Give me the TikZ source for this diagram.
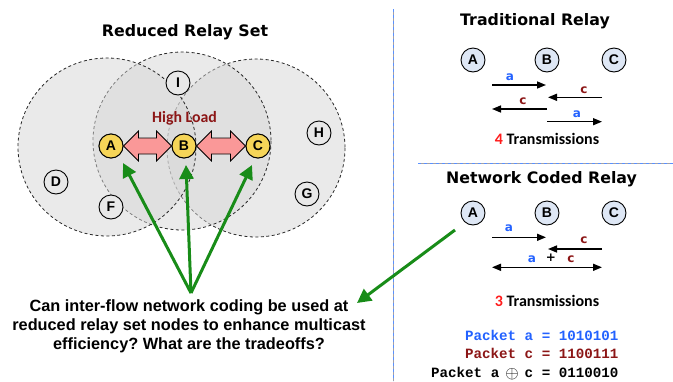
\documentclass[tikz,border=0pt]{standalone}
\usepackage{fontspec}
\setmainfont{Liberation Sans}
\newfontfamily\headfont{DejaVu Sans}
\newfontfamily\calfont{Carlito}
\newfontfamily\pktfont{Liberation Mono}
\usetikzlibrary{calc,arrows.meta}
\frenchspacing

\definecolor{relayyellow}{RGB}{246,213,88}
\definecolor{nodegray}{RGB}{232,232,232}
\definecolor{nodeblue}{RGB}{222,231,245}
\definecolor{loadpink}{RGB}{250,152,152}
\definecolor{flowa}{RGB}{35,98,255}
\definecolor{flowc}{RGB}{140,22,22}
\definecolor{hint}{RGB}{24,140,24}
\definecolor{countred}{RGB}{255,28,28}
\definecolor{rulegray}{RGB}{160,160,170}
\definecolor{ruleblue}{RGB}{90,145,255}

\tikzset{
  zone/.style={draw=black!85, dash pattern=on 3pt off 2.5pt, line width=0.8pt,
               fill=black!16, fill opacity=0.5},
  relay/.style={circle, draw, line width=0.9pt, fill=relayyellow, minimum size=24pt,
                inner sep=0pt, font=\fontsize{14}{14}\selectfont\bfseries},
  other/.style={relay, fill=nodegray},
  pnode/.style={relay, fill=nodeblue},
  heading/.style={anchor=base, font=\headfont\bfseries\fontsize{15.8}{16}\selectfont},
  msg/.style={-{Triangle[length=9pt,width=7pt]}, line width=1.5pt},
  bimsg/.style={{Triangle[length=9pt,width=7pt]}-{Triangle[length=9pt,width=7pt]}, line width=1.5pt},
  pktlbl/.style={anchor=base, font=\headfont\bfseries\fontsize{12}{12}\selectfont},
  count/.style={anchor=base, font=\calfont\bfseries\fontsize{16}{16}\selectfont},
  pkt/.style={anchor=base east, font=\pktfont\bfseries\fontsize{14.2}{14}\selectfont},
  hintarrow/.style={draw=hint, line width=3pt, -{Triangle[length=14pt,width=14pt]}},
  loadarrow/.style={draw=black, line width=0.8pt, fill=loadpink, line join=miter},
  divider/.style={line width=1pt, draw=rulegray},
  dividerdash/.style={line width=1pt, draw=ruleblue, dash pattern=on 3pt off 3pt}
}

\begin{document}
\begin{tikzpicture}[x=1pt,y=-1pt]
\useasboundingbox (0,0) rectangle (673,381);

% ---------- left: reduced relay set ----------
\node[heading] (title) at (185,36) {Reduced Relay Set};

\draw[zone] (256,148) circle[radius=89];
\draw[zone] (182,141) circle[radius=89];
\draw[zone] (107,147) circle[radius=89];

\node[relay] (A) at (111,146) {A};
\node[relay] (B) at (184,146) {B};
\node[relay] (C) at (258,146) {C};

% heavy two-way traffic between the relays
\foreach \u/\v in {A/B,B/C}{
  \draw[loadarrow] let \p1=(\u.east), \p2=(\v.west) in
    (\x1,\y1) -- (\x1+15pt,\y1+15pt) -- (\x1+15pt,\y1+8pt) -- (\x2-15pt,\y1+8pt)
    -- (\x2-15pt,\y1+15pt) -- (\x2,\y1) -- (\x2-15pt,\y1-15pt) -- (\x2-15pt,\y1-8pt)
    -- (\x1+15pt,\y1-8pt) -- (\x1+15pt,\y1-15pt) -- cycle;
}
\node[relay] at (A) {A};
\node[relay] at (B) {B};
\node[relay] at (C) {C};

\node[other] (I) at (178,83) {I};
\node[other] (H) at (319,133) {H};
\node[other] (D) at (56,182) {D};
\node[other] (F) at (111,207) {F};
\node[other] (G) at (307,194) {G};

\node[anchor=base, text=flowc, font=\calfont\bfseries\fontsize{15.8}{16}\selectfont]
  (load) at (184.5,122) {High Load};

% ---------- question ----------
\node[align=center, font=\bfseries\fontsize{16.3}{19}\selectfont] (q) at (189,326)
  {Can inter-flow network coding be used at\\
   reduced relay set nodes to enhance multicast\\
   efficiency? What are the tradeoffs?};

\coordinate (apex) at (191,293);
\draw[hintarrow] (apex) -- ($(A)+(12,17)$);
\draw[hintarrow] (apex) -- ($(B)+(2,19)$);
\draw[hintarrow] (apex) -- ($(C)+(-6,19)$);

% ---------- dividers ----------
\draw[divider] (393,9) -- (393,381);
\draw[dividerdash] (393,9) -- (393,381);
\draw[divider] (418,163) -- (673,163);
\draw[dividerdash] (418,163) -- (673,163);

% ---------- traditional relay ----------
\node[heading] (trad) at (535,25) {Traditional Relay};
\node[pnode] (tA) at (473,60) {A};
\node[pnode] (tB) at (547,60) {B};
\node[pnode] (tC) at (614,60) {C};

\draw[msg] (492,85) -- (546,85);
\node[pktlbl, text=flowa] at (510,80) {a};
\draw[msg] (602,97.3) -- (548,97.3);
\node[pktlbl, text=flowc] at (584,93) {c};
\draw[msg] (547,109) -- (492,109);
\node[pktlbl, text=flowc] at (523,104) {c};
\draw[msg] (547,121.7) -- (602,121.7);
\node[pktlbl, text=flowa] at (577,117) {a};

\node[count] (tcount) at (547,144) {\textcolor{countred}{4} Transmissions};

% ---------- network coded relay ----------
\node[heading] (nc) at (541.5,183) {Network Coded Relay};
\node[pnode] (nA) at (473,213) {A};
\node[pnode] (nB) at (547,213) {B};
\node[pnode] (nC) at (614,213) {C};

\draw[msg] (492,237.3) -- (546,237.3);
\node[pktlbl, text=flowa] at (509,231) {a};
\draw[msg] (602,249) -- (548,249);
\node[pktlbl, text=flowc] at (584,243) {c};
\draw[bimsg] (492,267.3) -- (602,267.3);
\node[pktlbl, text=flowa] at (532,262) {a};
\node[pktlbl] at (551,261) {+};
\node[pktlbl, text=flowc] at (571,262) {c};

\node[count] (ncount) at (547,306) {\textcolor{countred}{3} Transmissions};

\node[pkt, text=flowa] (pa) at (622,340.5) {Packet a = 1010101};
\node[pkt, text=flowc] (pc) at (622,358.5) {Packet c = 1100111};
\node[pkt] (pac) at (622,377.5)
  {Packet a\hspace{6pt}\smash{\raisebox{-0.5pt}{\fontsize{18}{18}\selectfont$\oplus$}}\hspace{6pt}c = 0110010};

\coordinate (qtip) at (357,303);
\draw[hintarrow] ($(nA)+(-18,17)$) -- (qtip);
\end{tikzpicture}
\end{document}
